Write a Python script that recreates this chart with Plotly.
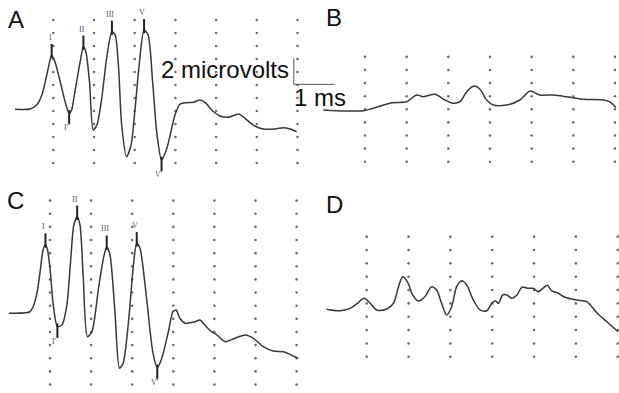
import plotly.graph_objects as go

W, H = 619, 393

# ---------------- data: time (ms) and amplitude (microvolts) ----------------
a_t = [0.06, 0.43, 0.59, 0.72, 0.84, 0.92, 0.96, 1.04, 1.17, 1.29, 1.39, 1.45, 1.53, 1.66, 1.74,
       1.80, 1.89, 1.98, 2.07, 2.19, 2.31, 2.44, 2.52, 2.60, 2.68, 2.80, 2.91, 3.01, 3.11, 3.23,
       3.33, 3.44, 3.54, 3.66, 3.79, 3.99, 4.11, 4.28, 4.44, 4.60, 4.73, 4.89, 5.10, 5.30, 5.55,
       5.71, 5.91, 6.16, 6.45, 6.65, 6.82, 6.98]
a_v = [0.13, 0.15, 0.46, 1.23, 2.77, 3.92, 4.31, 3.79, 2.25, 0.72, -0.18, 0.08, 1.48, 3.79, 4.95,
       4.56, 2.25, -1.46, -1.08, 0.98, 4.05, 6.10, 5.85, 3.54, -1.08, -3.52, -2.62, 0.21, 3.54, 6.23,
       5.85, 2.25, -1.59, -3.77, -2.87, -0.31, 0.52, 0.64, 0.67, 0.85, 0.67, 0.08, -0.38, -0.48, -0.23,
       -0.56, -1.08, -1.38, -1.38, -1.28, -1.38, -1.59]

b_t = [0.00, 0.52, 0.96, 1.20, 1.64, 2.00, 2.24, 2.40, 2.68, 2.92, 3.12, 3.28, 3.44, 3.62, 3.76,
       3.92, 4.08, 4.40, 4.72, 4.96, 5.20, 5.52, 5.84, 6.24, 6.72, 6.88, 7.02]
b_v = [-0.05, -0.13, -0.11, 0.08, 0.50, 0.58, 1.09, 0.96, 1.15, 0.71, 0.46, 0.58, 1.34, 1.78, 1.53,
       0.71, 0.33, 0.33, 0.71, 1.40, 1.09, 1.09, 0.96, 0.76, 0.71, 0.56, 0.14]

c_t = [0.00, 0.51, 0.59, 0.69, 0.77, 0.83, 0.89, 0.94, 1.00, 1.08, 1.18, 1.29, 1.41, 1.50, 1.58,
       1.66, 1.73, 1.81, 1.91, 2.02, 2.18, 2.30, 2.38, 2.46, 2.58, 2.69, 2.78, 2.91, 3.03, 3.11,
       3.19, 3.35, 3.50, 3.61, 3.72, 3.88, 3.99, 4.07, 4.16, 4.29, 4.49, 4.65, 4.73, 4.88, 5.06,
       5.26, 5.46, 5.75, 5.95, 6.19, 6.43, 6.68, 6.84, 7.04]
c_v = [-0.58, -0.46, -0.08, 1.07, 2.85, 4.24, 4.66, 4.24, 2.85, 0.05, -1.60, -1.47, 0.05, 3.35, 6.14,
       6.77, 6.14, 2.09, -2.36, -1.98, 1.32, 3.61, 4.49, 3.86, -0.46, -4.76, -4.38, -1.22, 3.10, 4.75,
       4.37, 0.56, -3.50, -4.72, -4.00, -1.98, -0.46, -0.33, -0.96, -1.34, -1.26, -1.09, -1.34, -1.85, -2.23,
       -2.74, -2.53, -2.23, -2.48, -3.12, -3.45, -3.50, -3.70, -4.00]

d_t = [0.04, 0.36, 0.60, 0.76, 0.94, 1.08, 1.24, 1.48, 1.64, 1.76, 1.86, 1.97, 2.10, 2.23, 2.39,
       2.55, 2.67, 2.79, 2.91, 3.03, 3.15, 3.27, 3.39, 3.55, 3.71, 3.87, 3.99, 4.07, 4.15, 4.25,
       4.35, 4.47, 4.59, 4.71, 4.86, 4.98, 5.10, 5.21, 5.32, 5.42, 5.56, 5.74, 6.02, 6.26, 6.50,
       6.74, 7.01]
d_v = [-0.44, -0.55, -0.37, -0.04, 0.38, 0.01, -0.49, -0.42, 0.01, 1.25, 2.00, 1.63, 0.63, 0.18, 0.50,
       1.25, 1.00, 0.01, -0.87, -0.25, 1.25, 1.70, 1.38, 0.25, -0.49, -0.55, 0.01, 0.20, 0.01, 0.63,
       0.63, 0.38, 0.63, 1.21, 1.13, 1.13, 0.88, 1.13, 1.36, 0.93, 0.80, 0.46, 0.25, 0.13, -0.70,
       -1.37, -2.12]

# grid (1 ms columns, 1 microvolt rows)
grid_cols = [1, 2, 3, 4, 5, 6, 7]
a_rows = list(range(-4, 8))
b_rows = list(range(-4, 5))
c_rows = list(range(-6, 9))
d_rows = list(range(-4, 6))

# labelled waves
a_peak_names = ["I", "II", "III", "V"]
a_peak_t = [0.96, 1.74, 2.44, 3.23]
a_peak_v = [4.31, 4.95, 6.10, 6.23]
a_trough_names = ["I'", "V'"]
a_trough_t = [1.39, 3.66]
a_trough_v = [-0.18, -3.77]

c_peak_names = ["I", "II", "III", "V"]
c_peak_t = [0.89, 1.66, 2.38, 3.11]
c_peak_v = [4.66, 6.77, 4.49, 4.75]
c_trough_names = ["I'", "V'"]
c_trough_t = [1.18, 3.61]
c_trough_v = [-1.60, -4.72]

scale_ms = 1.0
scale_uv = 2.0
scale_origin = (6.91, 2.05)

# ---------------- layout geometry (pixels) ----------------
panels = [
    dict(name="A", box=(0, 345, 0, 190), x0=12.6, sx=40.7, y0=111.0, sy=13.0),
    dict(name="B", box=(315, 619, 0, 190), x0=323.3, sx=41.67, y0=109.3, sy=13.1),
    dict(name="C", box=(0, 310, 190, 393), x0=8.9, sx=41.1, y0=305.7, sy=13.14),
    dict(name="D", box=(315, 619, 190, 393), x0=324.9, sx=41.83, y0=303.4, sy=13.35),
]
letter_pos = {"A": (16, 19), "B": (334, 18), "C": (15, 200), "D": (334, 204)}

traces_data = {"A": (a_t, a_v, a_rows), "B": (b_t, b_v, b_rows),
               "C": (c_t, c_v, c_rows), "D": (d_t, d_v, d_rows)}

FONT = "Liberation Sans, Arial"
fig = go.Figure()
layout = dict(width=W, height=H, margin=dict(l=0, r=0, t=0, b=0),
              paper_bgcolor="white", plot_bgcolor="rgba(0,0,0,0)", showlegend=False)
annotations = []
trace_color = "#383838"
smoothing = {"A": 0.7, "B": 0.8, "C": 0.7, "D": 0.9}

for i, p in enumerate(panels):
    n = i + 1
    xa = "xaxis" if n == 1 else f"xaxis{n}"
    ya = "yaxis" if n == 1 else f"yaxis{n}"
    xr = "x" if n == 1 else f"x{n}"
    yr = "y" if n == 1 else f"y{n}"
    bx0, bx1, by0, by1 = p["box"]
    layout[xa] = dict(domain=[bx0 / W, bx1 / W],
                      range=[(bx0 - p["x0"]) / p["sx"], (bx1 - p["x0"]) / p["sx"]],
                      visible=False, anchor=yr, fixedrange=True)
    layout[ya] = dict(domain=[1 - by1 / H, 1 - by0 / H],
                      range=[(p["y0"] - by1) / p["sy"], (p["y0"] - by0) / p["sy"]],
                      visible=False, anchor=xr, fixedrange=True)
    t, v, rows = traces_data[p["name"]]
    gx, gy = [], []
    for c in grid_cols:
        for r in rows:
            gx.append(c)
            gy.append(r)
    fig.add_trace(go.Scatter(x=gx, y=gy, mode="markers", xaxis=xr, yaxis=yr,
                             marker=dict(size=2.6, color="#6e6e6e"), hoverinfo="skip"))
    fig.add_trace(go.Scatter(x=t, y=v, mode="lines", xaxis=xr, yaxis=yr,
                             line=dict(color=trace_color, width=1.5, shape="spline",
                                       smoothing=smoothing[p["name"]])))
    lx, ly = letter_pos[p["name"]]
    annotations.append(dict(x=lx / W, y=1 - ly / H, xref="paper", yref="paper",
                            xanchor="center", yanchor="middle",
                            text=p["name"], showarrow=False,
                            font=dict(family=FONT, size=24, color="#111")))

# wave markers and labels
def add_markers(pt, pv, pn, tt, tv, tn, xr, yr):
    mx, my = [], []
    for t0, v0, name in zip(pt, pv, pn):
        mx += [t0, t0, None]
        my += [v0 - 0.25, v0 + 0.85, None]
        annotations.append(dict(x=t0 - 0.04, y=v0 + 1.35, xref=xr, yref=yr, text=name,
                                xanchor="center", yanchor="middle", showarrow=False,
                                font=dict(size=8, color="#555", family="Liberation Serif, serif")))
    for t0, v0, name in zip(tt, tv, tn):
        mx += [t0, t0, None]
        my += [v0 + 0.25, v0 - 0.85, None]
        annotations.append(dict(x=t0 - 0.06, y=v0 - 1.1, xref=xr, yref=yr, text=name,
                                xanchor="center", yanchor="middle", showarrow=False,
                                font=dict(size=8, color="#555", family="Liberation Serif, serif")))
    fig.add_trace(go.Scatter(x=mx, y=my, mode="lines", xaxis=xr, yaxis=yr,
                             line=dict(color="#222", width=2), hoverinfo="skip"))

add_markers(a_peak_t, a_peak_v, a_peak_names, a_trough_t, a_trough_v, a_trough_names, "x", "y")
add_markers(c_peak_t, c_peak_v, c_peak_names, c_trough_t, c_trough_v, c_trough_names, "x3", "y3")

# scale bar in panel A
st, sv = scale_origin
fig.add_trace(go.Scatter(x=[st, st, st + scale_ms], y=[sv + scale_uv, sv, sv], mode="lines",
                         xaxis="x", yaxis="y", line=dict(color="#555", width=1), hoverinfo="skip"))
annotations.append(dict(x=st - 0.06, y=sv + 1.15, xref="x", yref="y", text="2 microvolts",
                        xanchor="right", yanchor="middle", showarrow=False,
                        font=dict(family=FONT, size=24, color="#111")))
annotations.append(dict(x=st - 0.04, y=sv - 1.02, xref="x", yref="y", text="1 ms",
                        xanchor="left", yanchor="middle", showarrow=False,
                        font=dict(family=FONT, size=24, color="#111")))

layout["annotations"] = annotations
fig.update_layout(**layout)
fig.write_html("out.html")
